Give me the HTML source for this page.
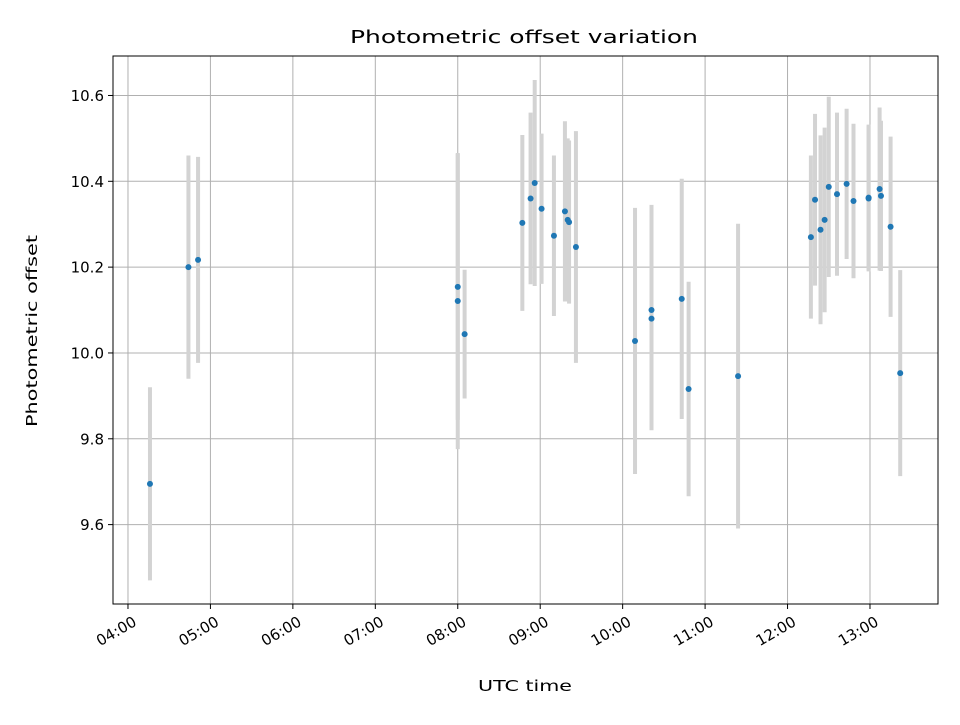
<!DOCTYPE html>
<html><head><meta charset="utf-8"><style>
body{margin:0;background:#fff;}
svg text{font-family:"DejaVu Sans","Liberation Sans",sans-serif;fill:#000;}
</style></head><body>
<svg id="chart" width="960" height="720" viewBox="0 0 960 720" xmlns="http://www.w3.org/2000/svg">
<rect width="960" height="720" fill="#fff"/>
<text x="524" y="43" font-size="18" text-anchor="middle" textLength="348" lengthAdjust="spacingAndGlyphs">Photometric offset variation</text>
<text transform="translate(37,331) rotate(-90)" font-size="15" text-anchor="middle" textLength="192" lengthAdjust="spacingAndGlyphs">Photometric offset</text>
<text x="525" y="691" font-size="15" text-anchor="middle" textLength="94" lengthAdjust="spacingAndGlyphs">UTC time</text>
<g id="grid"></g><g id="errs"></g><g id="pts"></g><g id="ticks"></g>
<rect x="113" y="56" width="825" height="548" fill="none" stroke="#000" stroke-width="1"/>
</svg>
<script>
const times=["04:16","04:44","04:51","08:00","08:00","08:05","08:47","08:53","08:56","09:01","09:10","09:18","09:20","09:21","09:26","10:09","10:21","10:21","10:43","10:48","11:24","12:17","12:20","12:24","12:27","12:30","12:36","12:43","12:48","12:59","12:59","13:07","13:08","13:15","13:22"];
const offsets=[9.695,10.20,10.217,10.154,10.121,10.044,10.303,10.36,10.396,10.336,10.273,10.33,10.31,10.305,10.247,10.028,10.10,10.08,10.126,9.916,9.946,10.27,10.357,10.287,10.31,10.387,10.37,10.394,10.354,10.36,10.362,10.382,10.366,10.294,9.953];
const errors=[0.225,0.26,0.24,0.31,0.345,0.15,0.205,0.2,0.24,0.175,0.187,0.21,0.19,0.19,0.27,0.31,0.245,0.26,0.28,0.25,0.355,0.19,0.2,0.22,0.215,0.21,0.19,0.175,0.18,0.17,0.17,0.19,0.175,0.21,0.24];
const yTicks=[9.6,9.8,10.0,10.2,10.4,10.6];
const xTickLabels=["04:00","05:00","06:00","07:00","08:00","09:00","10:00","11:00","12:00","13:00"];
const NS="http://www.w3.org/2000/svg";
const toMin=s=>{const p=s.split(":");return +p[0]*60+ +p[1];};
const X0=113,X1=938,Y0=56,Y1=604,xmin=229.1,xmax=829.5,ymin=9.415,ymax=10.692;
const sx=m=>X0+(m-xmin)/(xmax-xmin)*(X1-X0);
const sy=v=>Y1-(v-ymin)/(ymax-ymin)*(Y1-Y0);
function mk(tag,attrs,parent){const e=document.createElementNS(NS,tag);for(const k in attrs)e.setAttribute(k,attrs[k]);document.getElementById(parent).appendChild(e);return e;}
yTicks.forEach(v=>{const y=sy(v);
 const g=mk("line",{x1:X0,x2:X1,y1:y,y2:y,stroke:"#b0b0b0","stroke-width":1},"grid");
 
 
 const t=mk("line",{x1:X0-5,x2:X0,y1:y,y2:y,stroke:"#000"},"ticks");
 
 
 const l=mk("text",{x:X0-9,y:y+5.5,"font-size":15,"text-anchor":"end"},"ticks");
 
 
 l.textContent=v.toFixed(1);});
xTickLabels.forEach(s=>{const x=sx(toMin(s));
 const g=mk("line",{x1:x,x2:x,y1:Y0,y2:Y1,stroke:"#b0b0b0","stroke-width":1},"grid");
 
 
 const t=mk("line",{x1:x,x2:x,y1:Y1,y2:Y1+5,stroke:"#000"},"ticks");
 
 
 const l=mk("text",{transform:`translate(${x+4},${Y1+11}) rotate(-30)`,"font-size":15,"text-anchor":"end",dy:"0.75em"},"ticks");
 
 
 l.textContent=s;});
times.forEach((s,i)=>{const x=sx(toMin(s));
 const e=mk("line",{x1:x,x2:x,y1:sy(offsets[i]+errors[i]),y2:sy(offsets[i]-errors[i]),stroke:"#d3d3d3","stroke-width":4},"errs");
 
 
 const c=mk("circle",{cx:x,cy:sy(offsets[i]),r:3,fill:"#1f77b4"},"pts");
 
 });
</script>
</body></html>
